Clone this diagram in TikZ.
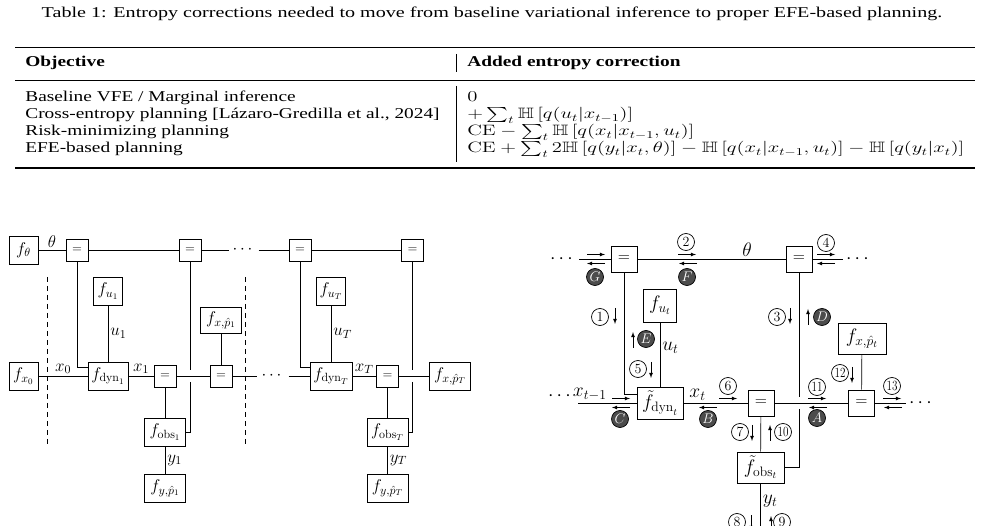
\RequirePackage{fix-cm}
\documentclass[tikz,border=0pt]{standalone}
\usepackage[no-math]{fontspec}
\setmainfont{Liberation Serif}
\usepackage{amsmath,amssymb}
\usepackage{graphicx}
\usepackage{tikz}

\newcommand{\fsT}{\fontsize{15}{17}\selectfont}
\newcommand{\fsL}{\fontsize{17}{19}\selectfont}
\newcommand{\fsR}{\fontsize{19.5}{21}\selectfont}
\newcommand{\wide}[1]{\scalebox{1.29}[1]{#1}}
\newcommand{\widem}[1]{\scalebox{1.38}[1]{#1}}
\definecolor{msgdark}{gray}{0.3}

\tikzset{
  tab/.style={anchor=base west, inner sep=0pt, font=\fsT},
  lab/.style={inner sep=2pt},
  factor/.style={draw, fill=white, inner sep=0pt, font=\fsL},
  fsmall/.style={factor, minimum width=29pt, minimum height=28pt},
  fwide/.style={factor, minimum width=41pt, minimum height=28pt},
  eqL/.style={factor, minimum size=22pt, font=\fontsize{13}{13}\selectfont},
  dotsL/.style={inner sep=3pt, font=\fsL},
  factorR/.style={draw, fill=white, inner sep=0pt, font=\fsR},
  eqR/.style={factorR, minimum size=26pt, font=\fontsize{16}{16}\selectfont},
  dotsR/.style={inner sep=3pt, font=\fsR},
  msg/.style={-latex, line width=0.8pt},
  num/.style={circle, draw, inner sep=0pt, minimum size=17pt, font=\fontsize{14}{14}\selectfont},
  dark/.style={circle, draw, fill=msgdark, text=white, inner sep=0pt, minimum size=17pt, font=\fontsize{14}{14}\selectfont}
}

\begin{document}
\begin{tikzpicture}[x=1pt, y=-1pt, line width=0.7pt]
\useasboundingbox (0,0) rectangle (983,526);

% Caption
\node[anchor=base, inner sep=0pt, font=\fsT] (caption) at (492,18)
  {\scalebox{1.34}[1]{Table 1: Entropy corrections needed to move from baseline variational inference to proper EFE-based planning.}};

% Table rules
\draw[line width=1.5pt] (15,47.5) -- (975,47.5);
\draw[line width=0.8pt] (15,80) -- (975,80);
\draw[line width=1.5pt] (15,168) -- (975,168);
\draw[line width=0.8pt] (456,54) -- (456,72);
\draw[line width=0.8pt] (456,86) -- (456,162);

% Table header
\node[tab] (hobj) at (25,67) {\wide{\textbf{Objective}}};
\node[tab] (hadd) at (467,67) {\wide{\textbf{Added entropy correction}}};

% Table rows
\node[tab] (obj1) at (25,102) {\wide{Baseline VFE / Marginal inference}};
\node[tab] (obj2) at (25,119) {\wide{Cross-entropy planning [Lázaro-Gredilla et al., 2024]}};
\node[tab] (obj3) at (25,136) {\wide{Risk-minimizing planning}};
\node[tab] (obj4) at (25,153) {\wide{EFE-based planning}};
\node[tab] (cor1) at (467,102) {\widem{$0$}};
\node[tab] (cor2) at (467,119) {\widem{$+\sum_t \mathbb{H}\left[q(u_t|x_{t-1})\right]$}};
\node[tab] (cor3) at (467,136) {\widem{$\mathrm{CE} - \sum_t \mathbb{H}\left[q(x_t|x_{t-1},u_t)\right]$}};
\node[tab] (cor4) at (467,153) {\widem{$\mathrm{CE} + \sum_t 2\mathbb{H}\left[q(y_t|x_t,\theta)\right] - \mathbb{H}\left[q(x_t|x_{t-1},u_t)\right] - \mathbb{H}\left[q(y_t|x_t)\right]$}};

% Left factor graph: parameter line
\node[fsmall] (fth) at (23.5,250) {$f_\theta$};
\node[eqL] (th1) at (77,250) {$=$};
\node[eqL] (th2) at (190,250) {$=$};
\node[dotsL] (thdots) at (244,250) {$\cdots$};
\node[eqL] (thT) at (300,250) {$=$};
\node[eqL] (thT2) at (412.5,250) {$=$};

% Left factor graph: state chain
\node[fsmall] (fx0) at (23.5,376) {$f_{x_0}$};
\node[factor, minimum width=40pt, minimum height=28pt] (dyn1) at (108,376) {$f_{\mathrm{dyn}_1}$};
\node[eqL] (eq1) at (165,376) {$=$};
\node[eqL] (eqp1) at (221,376) {$=$};
\node[dotsL, inner sep=4pt] (chdots) at (273,376) {$\cdots$};
\node[factor, minimum width=42pt, minimum height=28pt] (dynT) at (331,376) {$f_{\mathrm{dyn}_T}$};
\node[eqL] (eqT) at (387.5,376) {$=$};
\node[fwide] (fxpT) at (450,376) {$f_{x,\hat{p}_T}$};

% Left factor graph: controls, goals, observations
\node[fsmall] (fu1) at (108,291) {$f_{u_1}$};
\node[fsmall] (fuT) at (331,291) {$f_{u_T}$};
\node[fwide, minimum height=26pt] (fxp1) at (221,320) {$f_{x,\hat{p}_1}$};
\node[fwide] (fobs1) at (165,432) {$f_{\mathrm{obs}_1}$};
\node[fwide] (fobsT) at (387.5,432) {$f_{\mathrm{obs}_T}$};
\node[fwide] (fyp1) at (165,488) {$f_{y,\hat{p}_1}$};
\node[fwide] (fypT) at (387.5,488) {$f_{y,\hat{p}_T}$};

\draw (fth) -- node[lab, above, font=\fsL] (lth) {$\theta$} (th1);
\draw (th1) -- (th2);
\draw (th2) -- (thdots);
\draw (thdots) -- (thT);
\draw (thT) -- (thT2);

\draw (fx0) -- node[lab, above, font=\fsL] (lx0) {$x_0$} (dyn1);
\draw (dyn1) -- node[lab, above, font=\fsL] (lx1) {$x_1$} (eq1);
\draw (eq1) -- (eqp1);
\draw (eqp1) -- (chdots);
\draw (chdots) -- (dynT);
\draw (dynT) -- node[lab, above, font=\fsL] (lxT) {$x_T$} (eqT);
\draw (eqT) -- (fxpT);

\draw (fu1) -- node[lab, right, font=\fsL] (lu1) {$u_1$} (dyn1);
\draw (fuT) -- node[lab, right, font=\fsL] (luT) {$u_T$} (dynT);
\draw (fxp1) -- (eqp1);
\draw (eq1) -- (fobs1);
\draw (eqT) -- (fobsT);
\draw (fobs1) -- node[lab, right, font=\fsL] (ly1) {$y_1$} (fyp1);
\draw (fobsT) -- node[lab, right, font=\fsL] (lyT) {$y_T$} (fypT);

\draw (th1) |- ([yshift=9pt]dyn1.west);
\draw (thT) |- ([yshift=9pt]dynT.west);
% parameter lines to the observation factors, crossing the chain
\coordinate (cr1a) at (190,370);
\coordinate (cr1b) at (190,382);
\coordinate (crTa) at (412.5,370);
\coordinate (crTb) at (412.5,382);
\draw (th2) -- (cr1a);
\draw (cr1b) |- (fobs1.east);
\draw (thT2) -- (crTa);
\draw (crTb) |- (fobsT.east);

% time slice borders
\draw[dash pattern=on 5pt off 4pt] (47,277) -- (47,445);
\draw[dash pattern=on 5pt off 4pt] (245,277) -- (245,445);

% Right factor graph: one time slice
\node[eqR] (gth) at (624,259) {$=$};
\node[eqR] (gthR) at (799,259) {$=$};
\node[dotsR] (tdL) at (563,259) {$\cdots$};
\node[dotsR] (tdR) at (859,259) {$\cdots$};
\node[dotsR] (cdL) at (561,396) {$\cdots$};
\coordinate (cL) at (578,403);
\node[factorR, minimum width=46pt, minimum height=32pt] (dynt) at (660,403) {$\tilde{f}_{\mathrm{dyn}_t}$};
\node[eqR] (eqa) at (761,403) {$=$};
\node[eqR] (eqb) at (861.5,403) {$=$};
\node[dotsR] (cdR) at (922,403) {$\cdots$};
\node[factorR, minimum width=33pt, minimum height=33pt] (fut) at (660,305.5) {$f_{u_t}$};
\node[factorR, minimum width=48pt, minimum height=31pt] (fxpt) at (862,338.5) {$f_{x,\hat{p}_t}$};
\node[factorR, minimum width=47pt, minimum height=31pt] (fobst) at (760.5,467.5) {$\tilde{f}_{\mathrm{obs}_t}$};
\coordinate (ybot) at (760.5,532);

\draw (tdL) -- (gth);
\draw (gth) -- node[lab, pos=0.74, above, font=\fsR] (lthR) {$\theta$} (gthR);
\draw (gthR) -- (tdR);
\draw (cL) -- node[lab, pos=0.2, above, font=\fsR] (lxtm) {$x_{t-1}$} (dynt);
\draw (dynt) -- node[lab, pos=0.22, above, font=\fsR] (lxt) {$x_t$} (eqa);
\draw (eqa) -- (eqb);
\draw (eqb) -- (cdR);
\draw (gth) |- ([yshift=9pt]dynt.west);
\draw (fut) -- node[lab, pos=0.4, right, font=\fsR] (lut) {$u_t$} (dynt);
\draw (fxpt) -- (eqb);
\draw (eqa) -- (fobst);
\draw (fobst) -- node[lab, pos=0.36, right, font=\fsR] (lyt) {$y_t$} (ybot);
\coordinate (cr2a) at (799,397);
\coordinate (cr2b) at (799,409);
\draw (gthR) -- (cr2a);
\draw (cr2b) |- (fobst.east);

% Messages
\foreach \x/\y in {587/254.5, 678/254.5, 817/254.5, 612/398.5, 719/398.5, 808/398.5, 883/398.5}
  \draw[msg] (\x,\y) -- ++(18,0);
\foreach \x/\y in {605/263.5, 697/263.5, 835/263.5, 630/407.5, 717/407.5, 827/407.5, 902/407.5}
  \draw[msg] (\x,\y) -- ++(-18,0);
\foreach \x/\y in {615/308, 790/308, 651/362, 852/367, 752/425, 751/515}
  \draw[msg] (\x,\y) -- ++(0,16);
\foreach \x/\y in {633/348, 808/325, 770/441, 771/532}
  \draw[msg] (\x,\y) -- ++(0,-16);

% Forward message numbers
\foreach \n/\x/\y in {1/600/317, 2/686/242, 3/777/317, 4/826/243, 5/638/369, 6/728/386, 7/740/432, 8/737/522, 9/782/522}
  \node[num] (m\n) at (\x,\y) {$\n$};
\foreach \n/\x/\y in {10/783/432, 11/817/387, 12/840/373, 13/892/386}
  \node[num] (m\n) at (\x,\y) {\scalebox{0.8}[1]{$\n$}};

% Backward message letters
\foreach \n/\x/\y in {G/595/277, F/687/277, E/646/339, D/822/317, C/620/419, B/708/419, A/817/418}
  \node[dark] (b\n) at (\x,\y) {$\n$};
\end{tikzpicture}
\end{document}
